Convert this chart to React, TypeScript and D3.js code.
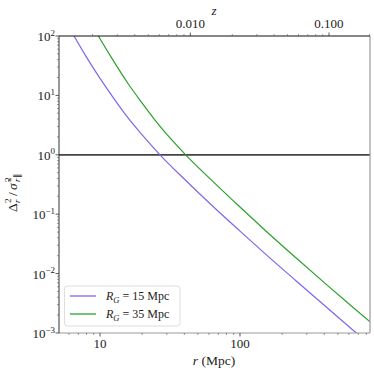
import React from "react";
import * as d3 from "d3";

const rBlue = [5.62, 6.52, 7.94, 10, 12.6, 15.8, 20, 26.8, 39.8, 63.1, 100, 158, 251, 398, 631, 891];
const vBlue = [185.8, 100, 45.5, 19.3, 8.73, 4.21, 2.16, 1.0, 0.395, 0.140, 0.0519, 0.0197, 0.0076, 0.00296, 0.00116, 0.000578];
const rGreen = [8.51, 9.73, 12.6, 15.8, 20, 25.1, 31.6, 40.9, 63.1, 100, 158, 251, 398, 631, 891];
const vGreen = [173, 100, 36.6, 16.0, 7.40, 3.65, 1.92, 1.0, 0.368, 0.132, 0.0488, 0.01845, 0.00711, 0.00279, 0.0014];
const seriesLabels = ["15", "35"];
const seriesColors = ["#7b68ee", "#2ca02c"];
const yExps = [2, 1, 0, -1, -2, -3];
const xMajor = [10, 100];
const zMajor = [0.01, 0.1];
const zLabels = ["0.010", "0.100"];

// comoving distance (Mpc) for top axis
function comoving(z: number) {
  const H0 = 67.7, Om = 0.31, c = 299792.458;
  const n = 200;
  const h = z / n;
  let s = 0;
  for (let i = 0; i <= n; i++) {
    const zz = i * h;
    const f = 1 / Math.sqrt(Om * Math.pow(1 + zz, 3) + 1 - Om);
    const w = i === 0 || i === n ? 1 : i % 2 === 1 ? 4 : 2;
    s += w * f;
  }
  return (c / H0) * (s * h / 3);
}

const W = 374, H = 374;
const L = 59, R = 370, T = 36, B = 333;
const font = "Liberation Serif, Times New Roman, Times, serif";

export default function App() {
  const x = d3.scaleLog().domain([5.09, 849]).range([L, R]);
  const y = d3.scaleLog().domain([1e-3, 1e2]).range([B, T]);
  const line = d3
    .line<[number, number]>()
    .x((d) => x(d[0]))
    .y((d) => y(d[1]))
    .curve(d3.curveMonotoneX);

  const series = [
    rBlue.map((r, i) => [r, vBlue[i]] as [number, number]),
    rGreen.map((r, i) => [r, vGreen[i]] as [number, number]),
  ];

  const xMinor: number[] = [];
  for (const dec of [1, 10, 100]) for (let k = 2; k <= 9; k++) {
    const v = k * dec;
    if (v >= 5.09 && v <= 849) xMinor.push(v);
  }
  const yMinor: number[] = [];
  for (const e of [-3, -2, -1, 0, 1]) for (let k = 2; k <= 9; k++) yMinor.push(k * Math.pow(10, e));
  const zMinor: number[] = [];
  for (const dec of [0.001, 0.01, 0.1]) for (let k = 2; k <= 9; k++) {
    const z = k * dec;
    const d = comoving(z);
    if (d >= 5.09 && d <= 849) zMinor.push(z);
  }

  return (
    <svg width={W} height={H} style={{ position: "absolute", left: 0, top: 0, background: "#fff" }}>
      <defs>
        <clipPath id="clip">
          <rect x={L} y={T} width={R - L} height={B - T} />
        </clipPath>
      </defs>
      <rect x={0} y={0} width={W} height={H} fill="#fff" />
      <line x1={L} x2={R} y1={y(1)} y2={y(1)} stroke="#444" strokeWidth={1.8} />
      <g clipPath="url(#clip)">
        {series.map((s, i) => (
          <path key={i} d={line(s) || ""} fill="none" stroke={seriesColors[i]} strokeWidth={1.2} />
        ))}
      </g>
      <line x1={L} x2={R} y1={B} y2={B} stroke="#999" strokeWidth={1.2} />
      <line x1={R} x2={R} y1={T} y2={B} stroke="#999" strokeWidth={1.2} />
      <line x1={L} x2={L} y1={T} y2={B} stroke="#333" strokeWidth={1} />
      <line x1={L} x2={R} y1={T} y2={T} stroke="#111" strokeWidth={1.2} />
      <g fontFamily={font} fill="#222">
        {xMajor.map((v) => (
          <g key={"xm" + v}>
            <line x1={x(v)} x2={x(v)} y1={B} y2={B + 3.5} stroke="#333" strokeWidth={0.8} />
            <text x={x(v)} y={348} textAnchor="middle" fontSize={13}>{v}</text>
          </g>
        ))}
        {xMinor.map((v) => (
          <line key={"xn" + v} x1={x(v)} x2={x(v)} y1={B} y2={B + 2} stroke="#555" strokeWidth={0.6} />
        ))}
        {yExps.map((e) => {
          const yy = y(Math.pow(10, e));
          return (
            <g key={"ym" + e}>
              <line x1={L - 3.5} x2={L} y1={yy} y2={yy} stroke="#333" strokeWidth={0.8} />
              <text x={55} y={yy + 5} textAnchor="end" fontSize={13}>
                10<tspan dy={-5.5} fontSize={9}>{e < 0 ? "−" + -e : String(e)}</tspan>
              </text>
            </g>
          );
        })}
        {yMinor.map((v, i) => (
          <line key={"yn" + i} x1={L - 2} x2={L} y1={y(v)} y2={y(v)} stroke="#555" strokeWidth={0.6} />
        ))}
        {zMajor.map((z, i) => {
          const xx = x(comoving(z));
          return (
            <g key={"zm" + z}>
              <line x1={xx} x2={xx} y1={T - 3.5} y2={T} stroke="#333" strokeWidth={0.8} />
              <text x={xx} y={28} textAnchor="middle" fontSize={13}>{zLabels[i]}</text>
            </g>
          );
        })}
        {zMinor.map((z, i) => {
          const xx = x(comoving(z));
          return <line key={"zn" + i} x1={xx} x2={xx} y1={T - 2} y2={T} stroke="#555" strokeWidth={0.6} />;
        })}
        <text x={214} y={15} textAnchor="middle" fontSize={13} fontStyle="italic">z</text>
        <text x={214} y={365} textAnchor="middle" fontSize={13.5}>
          <tspan fontStyle="italic">r</tspan> (Mpc)
        </text>
        <g transform="translate(17,187) rotate(-90)">
          <text x={-25} y={0} fontSize={13.5}>Δ</text>
          <text x={-16} y={-6} fontSize={9}>2</text>
          <text x={-16} y={3} fontSize={9} fontStyle="italic">r</text>
          <text x={-9} y={0} fontSize={13.5}>/</text>
          <text x={-3} y={0} fontSize={13.5} fontStyle="italic">σ̃</text>
          <text x={5} y={-6} fontSize={9}>2</text>
          <text x={5} y={3} fontSize={9} fontStyle="italic">r</text>
          <text x={9.5} y={3} fontSize={9}>∥</text>
        </g>
        <rect x={64.5} y={286} width={115.5} height={40} rx={3} fill="#fff" fillOpacity={0.85} stroke="#ddd" strokeWidth={1} />
        {seriesLabels.map((lab, i) => {
          const yy = 296 + i * 18;
          return (
            <g key={"lg" + i}>
              <line x1={70} x2={96} y1={yy} y2={yy} stroke={seriesColors[i]} strokeWidth={1.3} />
              <text x={106} y={yy + 4} fontSize={12}>
                <tspan fontStyle="italic">R</tspan>
                <tspan fontStyle="italic" fontSize={8.5} dy={2.5}>G</tspan>
                <tspan dy={-2.5}> = {lab} Mpc</tspan>
              </text>
            </g>
          );
        })}
      </g>
    </svg>
  );
}
